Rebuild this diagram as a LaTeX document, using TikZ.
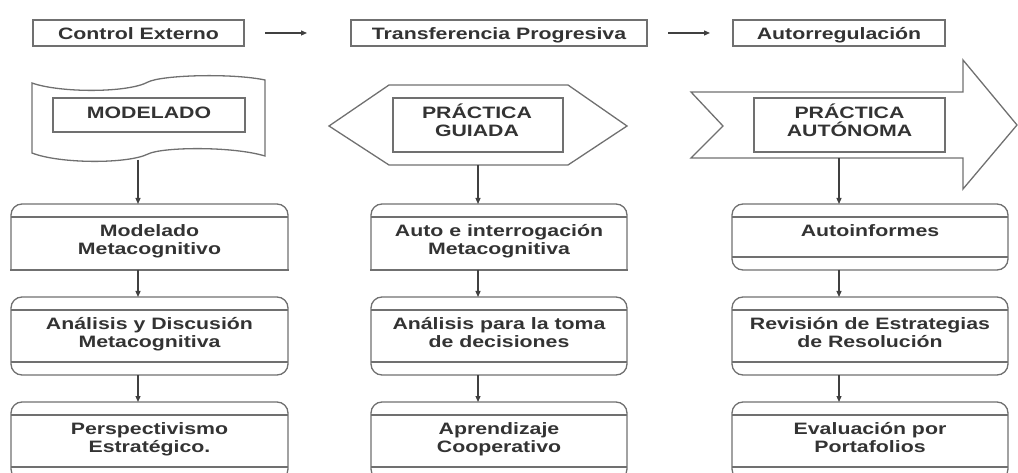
\documentclass[tikz,border=0pt]{standalone}
\usepackage{fontspec}
\setmainfont{Liberation Sans}[FakeStretch=1.29]
\usetikzlibrary{arrows.meta}
\definecolor{lncol}{HTML}{707070}
\definecolor{txcol}{HTML}{333333}
\definecolor{arcol}{HTML}{404040}
\newcommand\capT[1]{%
 \draw[ln, rounded corners=11pt] (#1.south west) -- (#1.north west) -- (#1.north east) -- (#1.south east);
 \draw[ln, line cap=rect] (#1.south west) -- (#1.south east);
 \draw[ln] ([yshift=-13pt]#1.north west) -- ([yshift=-13pt]#1.north east);}
\newcommand\capTB[1]{%
 \draw[ln, rounded corners=11pt] (#1.south west) rectangle (#1.north east);
 \draw[ln] ([yshift=-13pt]#1.north west) -- ([yshift=-13pt]#1.north east);
 \draw[ln] ([yshift=13pt]#1.south west) -- ([yshift=13pt]#1.south east);}
\begin{document}
\begin{tikzpicture}[x=1pt,y=-1pt,
  ln/.style={draw=lncol, line width=1.3pt},
  fr/.style={ln, inner sep=0pt, outer sep=0pt},
  ghost/.style={inner sep=0pt, outer sep=0pt, draw=none},
  txt/.style={text=txcol, font=\fontsize{16.5}{18}\selectfont\bfseries, align=center, inner sep=0pt},
  arr/.style={draw=arcol, line width=1.2pt, -{Triangle[length=6pt,width=5pt]}},
]
\useasboundingbox (0,0) rectangle (1018,473);
\clip (0,0) rectangle (1018,473);

% header row
\node[fr, minimum width=211pt, minimum height=26pt] (ce) at (138.5,33) {};
\node[txt, anchor=base] (tce) at (138.5,40) {Control Externo};
\node[fr, minimum width=296pt, minimum height=26pt] (tp) at (499,33) {};
\node[txt, anchor=base] (ttp) at (499,40) {Transferencia Progresiva};
\node[fr, minimum width=212pt, minimum height=26pt] (ar) at (839,33) {};
\node[txt, anchor=base] (tar) at (839,40) {Autorregulación};
\draw[arr] ([xshift=21pt]ce.east) -- ([xshift=-44pt]tp.west);
\draw[arr] ([xshift=21pt]tp.east) -- ([xshift=-23pt]ar.west);

% phase shapes
\draw[ln] (32,83) .. controls (60,93) and (128,93) .. (148,82)
  .. controls (162,75) and (232,73) .. (265,80) -- (265,156)
  .. controls (232,146) and (162,147) .. (148,154)
  .. controls (128,164) and (60,164) .. (32,153) -- cycle;
\draw[ln] (329,126) -- (389,85) -- (568,85) -- (627,126) -- (568,165) -- (389,165) -- cycle;
\draw[ln] (691,92) -- (963,92) -- (963,60) -- (1017,125) -- (963,189) -- (963,158)
  -- (691,158) -- (723,126) -- cycle;

\node[fr, minimum width=192pt, minimum height=34pt] (m0) at (149,115) {};
\node[txt, anchor=base] (tm0) at (149,118.5) {MODELADO};
\node[fr, minimum width=170pt, minimum height=54pt] (g0) at (478,125) {};
\node[txt, anchor=base] (tg0) at (477,137) {PRÁCTICA\\GUIADA};
\node[fr, minimum width=191pt, minimum height=54pt] (a0) at (849.5,125) {};
\node[txt, anchor=base] (ta0) at (849.5,137) {PRÁCTICA\\AUTÓNOMA};

\coordinate (ws) at (138,160);
\coordinate (hs) at (478,165);
\coordinate (as) at (839,158);
\coordinate (c1) at (138,0);
\coordinate (c2) at (478,0);
\coordinate (c3) at (839,0);

% step boxes
\node[ghost, minimum width=277pt, minimum height=66pt] (b11) at (149.5,237) {};
\node[ghost, minimum width=256pt, minimum height=66pt] (b21) at (499,237) {};
\node[ghost, minimum width=276pt, minimum height=66pt] (b31) at (870,237) {};
\node[ghost, minimum width=277pt, minimum height=78pt] (b12) at (149.5,336) {};
\node[ghost, minimum width=256pt, minimum height=78pt] (b22) at (499,336) {};
\node[ghost, minimum width=276pt, minimum height=78pt] (b32) at (870,336) {};
\node[ghost, minimum width=277pt, minimum height=78pt] (b13) at (149.5,441) {};
\node[ghost, minimum width=256pt, minimum height=78pt] (b23) at (499,441) {};
\node[ghost, minimum width=276pt, minimum height=78pt] (b33) at (870,441) {};
\capT{b11} \capT{b21} \capTB{b31}
\capTB{b12} \capTB{b22} \capTB{b32}
\capTB{b13} \capTB{b23} \capTB{b33}

\node[txt, anchor=base] (t11) at (149.5,255) {Modelado\\Metacognitivo};
\node[txt, anchor=base] (t21) at (499,255) {Auto e interrogación\\Metacognitiva};
\node[txt, anchor=base] (t31) at (870,237) {Autoinformes};
\node[txt, anchor=base] (t12) at (149.5,347.5) {Análisis y Discusión\\Metacognitiva};
\node[txt, anchor=base] (t22) at (499,347.5) {Análisis para la toma\\de decisiones};
\node[txt, anchor=base] (t32) at (870,347.5) {Revisión de Estrategias\\de Resolución};
\node[txt, anchor=base] (t13) at (149.5,452) {Perspectivismo\\Estratégico.};
\node[txt, anchor=base] (t23) at (499,452) {Aprendizaje\\Cooperativo};
\node[txt, anchor=base] (t33) at (870,452) {Evaluación por\\Portafolios};

% connectors
\draw[arr] (ws) -- (b11.north -| c1);
\draw[arr] (hs) -- (b21.north -| c2);
\draw[arr] (as) -- (b31.north -| c3);
\draw[arr] (b11.south -| c1) -- (b12.north -| c1);
\draw[arr] (b21.south -| c2) -- (b22.north -| c2);
\draw[arr] (b31.south -| c3) -- (b32.north -| c3);
\draw[arr] (b12.south -| c1) -- (b13.north -| c1);
\draw[arr] (b22.south -| c2) -- (b23.north -| c2);
\draw[arr] (b32.south -| c3) -- (b33.north -| c3);
\end{tikzpicture}
\end{document}
